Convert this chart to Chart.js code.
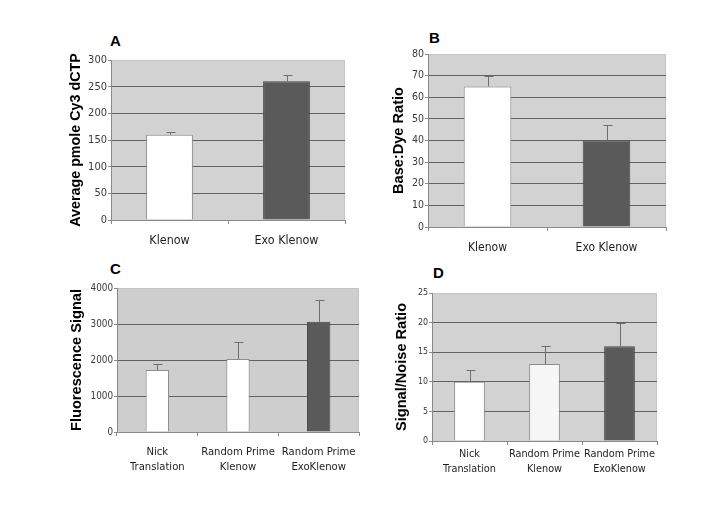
<!DOCTYPE html>
<html>
<head>
<meta charset="utf-8">
<script src="https://cdn.jsdelivr.net/npm/chart.js@4.4.1/dist/chart.umd.min.js"></script>
<style>
  html, body { margin: 0; padding: 0; background: #fff; }
  #wrap { position: relative; width: 720px; height: 528px; overflow: hidden; }
  canvas { position: absolute; }
  .letter { position: absolute; font: bold 15px Arial, "Liberation Sans", sans-serif; line-height: 15px; color: #000; }
</style>
</head>
<body>
<div id="wrap">
  <div class="letter" style="left:110px; top:33px;">A</div>
  <div class="letter" style="left:429px; top:30px;">B</div>
  <div class="letter" style="left:110px; top:261px;">C</div>
  <div class="letter" style="left:433px; top:265px;">D</div>
  <canvas id="chartA"></canvas>
  <canvas id="chartB"></canvas>
  <canvas id="chartC"></canvas>
  <canvas id="chartD"></canvas>
</div>
<script>
// Categories
const enzymes = ['Klenow', 'Exo Klenow'];
const methods = [['Nick', 'Translation'], ['Random Prime', 'Klenow'], ['Random Prime', 'ExoKlenow']];

// A: average pmole Cy3 dCTP (mean, + error)
const pmoleVals = [160, 260];
const pmoleErr = [5, 12];

// B: base:dye ratio
const ratioVals = [65, 40];
const ratioErr = [5, 7];

// C: fluorescence signal
const fluorVals = [1720, 2030, 3060];
const fluorErr = [160, 470, 610];

// D: signal/noise ratio
const snVals = [10, 13, 16];
const snErr = [2, 3, 4];

const FONT = 'Arial, "Liberation Sans", sans-serif';
const NARROW = '"DejaVu Sans Condensed", "Liberation Sans Narrow", sans-serif';
const WHITE = '#ffffff';
const DARK = '#5a5a5a';

// Plot background + light top/right frame + error bars
const panelPlugin = {
  id: 'panelDeco',
  beforeDraw(chart) {
    const a = chart.chartArea;
    const c = chart.ctx;
    c.save();
    c.fillStyle = chart.options.plugins.panelDeco.bg;
    c.fillRect(a.left, a.top, a.right - a.left, a.bottom - a.top);
    c.strokeStyle = '#c4c4c4';
    c.lineWidth = 1;
    c.beginPath();
    c.moveTo(a.left, a.top + 0.5);
    c.lineTo(a.right - 0.5, a.top + 0.5);
    c.lineTo(a.right - 0.5, a.bottom);
    c.stroke();
    c.restore();
  },
  afterDatasetsDraw(chart) {
    const errs = chart.options.plugins.panelDeco.errors;
    if (!errs) return;
    const meta = chart.getDatasetMeta(0);
    const ys = chart.scales.y;
    const vals = chart.data.datasets[0].data;
    const c = chart.ctx;
    c.save();
    c.strokeStyle = '#6e6e6e';
    c.lineWidth = 1;
    meta.data.forEach((bar, i) => {
      const x = Math.round(bar.x) + 0.5;
      const yTop = Math.round(ys.getPixelForValue(vals[i] + errs[i])) + 0.5;
      const yBar = ys.getPixelForValue(vals[i]);
      c.beginPath();
      c.moveTo(x, yBar);
      c.lineTo(x, yTop);
      c.moveTo(x - 4, yTop);
      c.lineTo(x + 5, yTop);
      c.stroke();
    });
    c.restore();
  }
};

function makePanel(id, opts) {
  const area = opts.area;
  const yw = 60, xh = 52;
  const x0 = area.l - yw;
  const y0 = area.t - 10;
  const canvas = document.getElementById(id);
  canvas.style.left = x0 + 'px';
  canvas.style.top = y0 + 'px';
  canvas.width = area.r + 10 - x0;
  canvas.height = area.b + xh - y0;

  const titleSize = opts.titleSize;
  const titleLH = titleSize * 1.2;

  new Chart(canvas, {
    type: 'bar',
    data: {
      labels: opts.labels,
      datasets: [{
        data: opts.values,
        backgroundColor: opts.colors,
        borderColor: opts.colors.map((col) => (col === DARK ? '#474747' : '#8c8c8c')),
        borderWidth: 1,
        borderSkipped: 'bottom',
        categoryPercentage: 1,
        barPercentage: opts.barPct
      }]
    },
    plugins: [panelPlugin],
    options: {
      responsive: false,
      animation: false,
      events: [],
      layout: { padding: { top: 10, right: 10, left: 0, bottom: 0 } },
      plugins: {
        legend: { display: false },
        tooltip: { enabled: false },
        panelDeco: { bg: opts.bg, errors: opts.errors }
      },
      scales: {
        x: {
          afterFit: (s) => { s.height = xh; },
          grid: {
            offset: true,
            drawOnChartArea: false,
            tickLength: 4,
            color: '#8a8a8a'
          },
          border: { color: '#8a8a8a' },
          ticks: {
            color: '#1e1e1e',
            padding: opts.labelPad,
            maxRotation: 0,
            autoSkip: false,
            font: { family: NARROW, size: opts.labelSize, lineHeight: opts.labelLH }
          }
        },
        y: {
          afterFit: (s) => { s.width = yw; },
          min: 0,
          max: opts.max,
          ticks: {
            stepSize: opts.step,
            color: '#3a3a3a',
            padding: 1,
            callback: (v) => String(v),
            font: { family: NARROW, size: opts.tickSize }
          },
          grid: {
            color: (ctx) => (ctx.tick && ctx.tick.value > 0 && ctx.tick.value < opts.max ? '#626262' : 'rgba(0,0,0,0)'),
            tickColor: '#8a8a8a',
            tickLength: 3
          },
          border: { color: '#8a8a8a' },
          title: {
            display: true,
            text: opts.title,
            color: '#000',
            font: { family: FONT, size: titleSize, weight: 'bold' },
            padding: { top: opts.titleX - x0 - titleLH / 2, bottom: 0 }
          }
        }
      }
    }
  });
}

makePanel('chartA', {
  labels: enzymes, values: pmoleVals, errors: pmoleErr,
  colors: [WHITE, DARK], barPct: 0.4, max: 300, step: 50,
  title: 'Average pmole Cy3 dCTP', titleX: 76.5, titleSize: 14.3,
  area: { l: 111, t: 60, r: 345, b: 220 }, bg: '#d2d2d2',
  tickSize: 11, labelSize: 12.4, labelLH: 1.2, labelPad: 9.5
});

makePanel('chartB', {
  labels: enzymes, values: ratioVals, errors: ratioErr,
  colors: [WHITE, DARK], barPct: 0.4, max: 80, step: 10,
  title: 'Base:Dye Ratio', titleX: 398.5, titleSize: 14.6,
  area: { l: 428, t: 54, r: 666, b: 227 }, bg: '#d2d2d2',
  tickSize: 10.5, labelSize: 12, labelLH: 1.2, labelPad: 9.5
});

makePanel('chartC', {
  labels: methods, values: fluorVals, errors: fluorErr,
  colors: [WHITE, WHITE, DARK], barPct: 0.29, max: 4000, step: 1000,
  title: 'Fluorescence Signal', titleX: 77, titleSize: 14.6,
  area: { l: 117, t: 288, r: 359, b: 432 }, bg: '#cecece',
  tickSize: 9.8, labelSize: 11.2, labelLH: 1.4, labelPad: 8
});

makePanel('chartD', {
  labels: methods, values: snVals, errors: snErr,
  colors: [WHITE, '#f7f7f7', DARK], barPct: 0.41, max: 25, step: 5,
  title: 'Signal/Noise Ratio', titleX: 402, titleSize: 14.6,
  area: { l: 432, t: 293, r: 657, b: 441 }, bg: '#d2d2d2',
  tickSize: 8.8, labelSize: 10.8, labelLH: 1.32, labelPad: 2.5
});
</script>
</body>
</html>
